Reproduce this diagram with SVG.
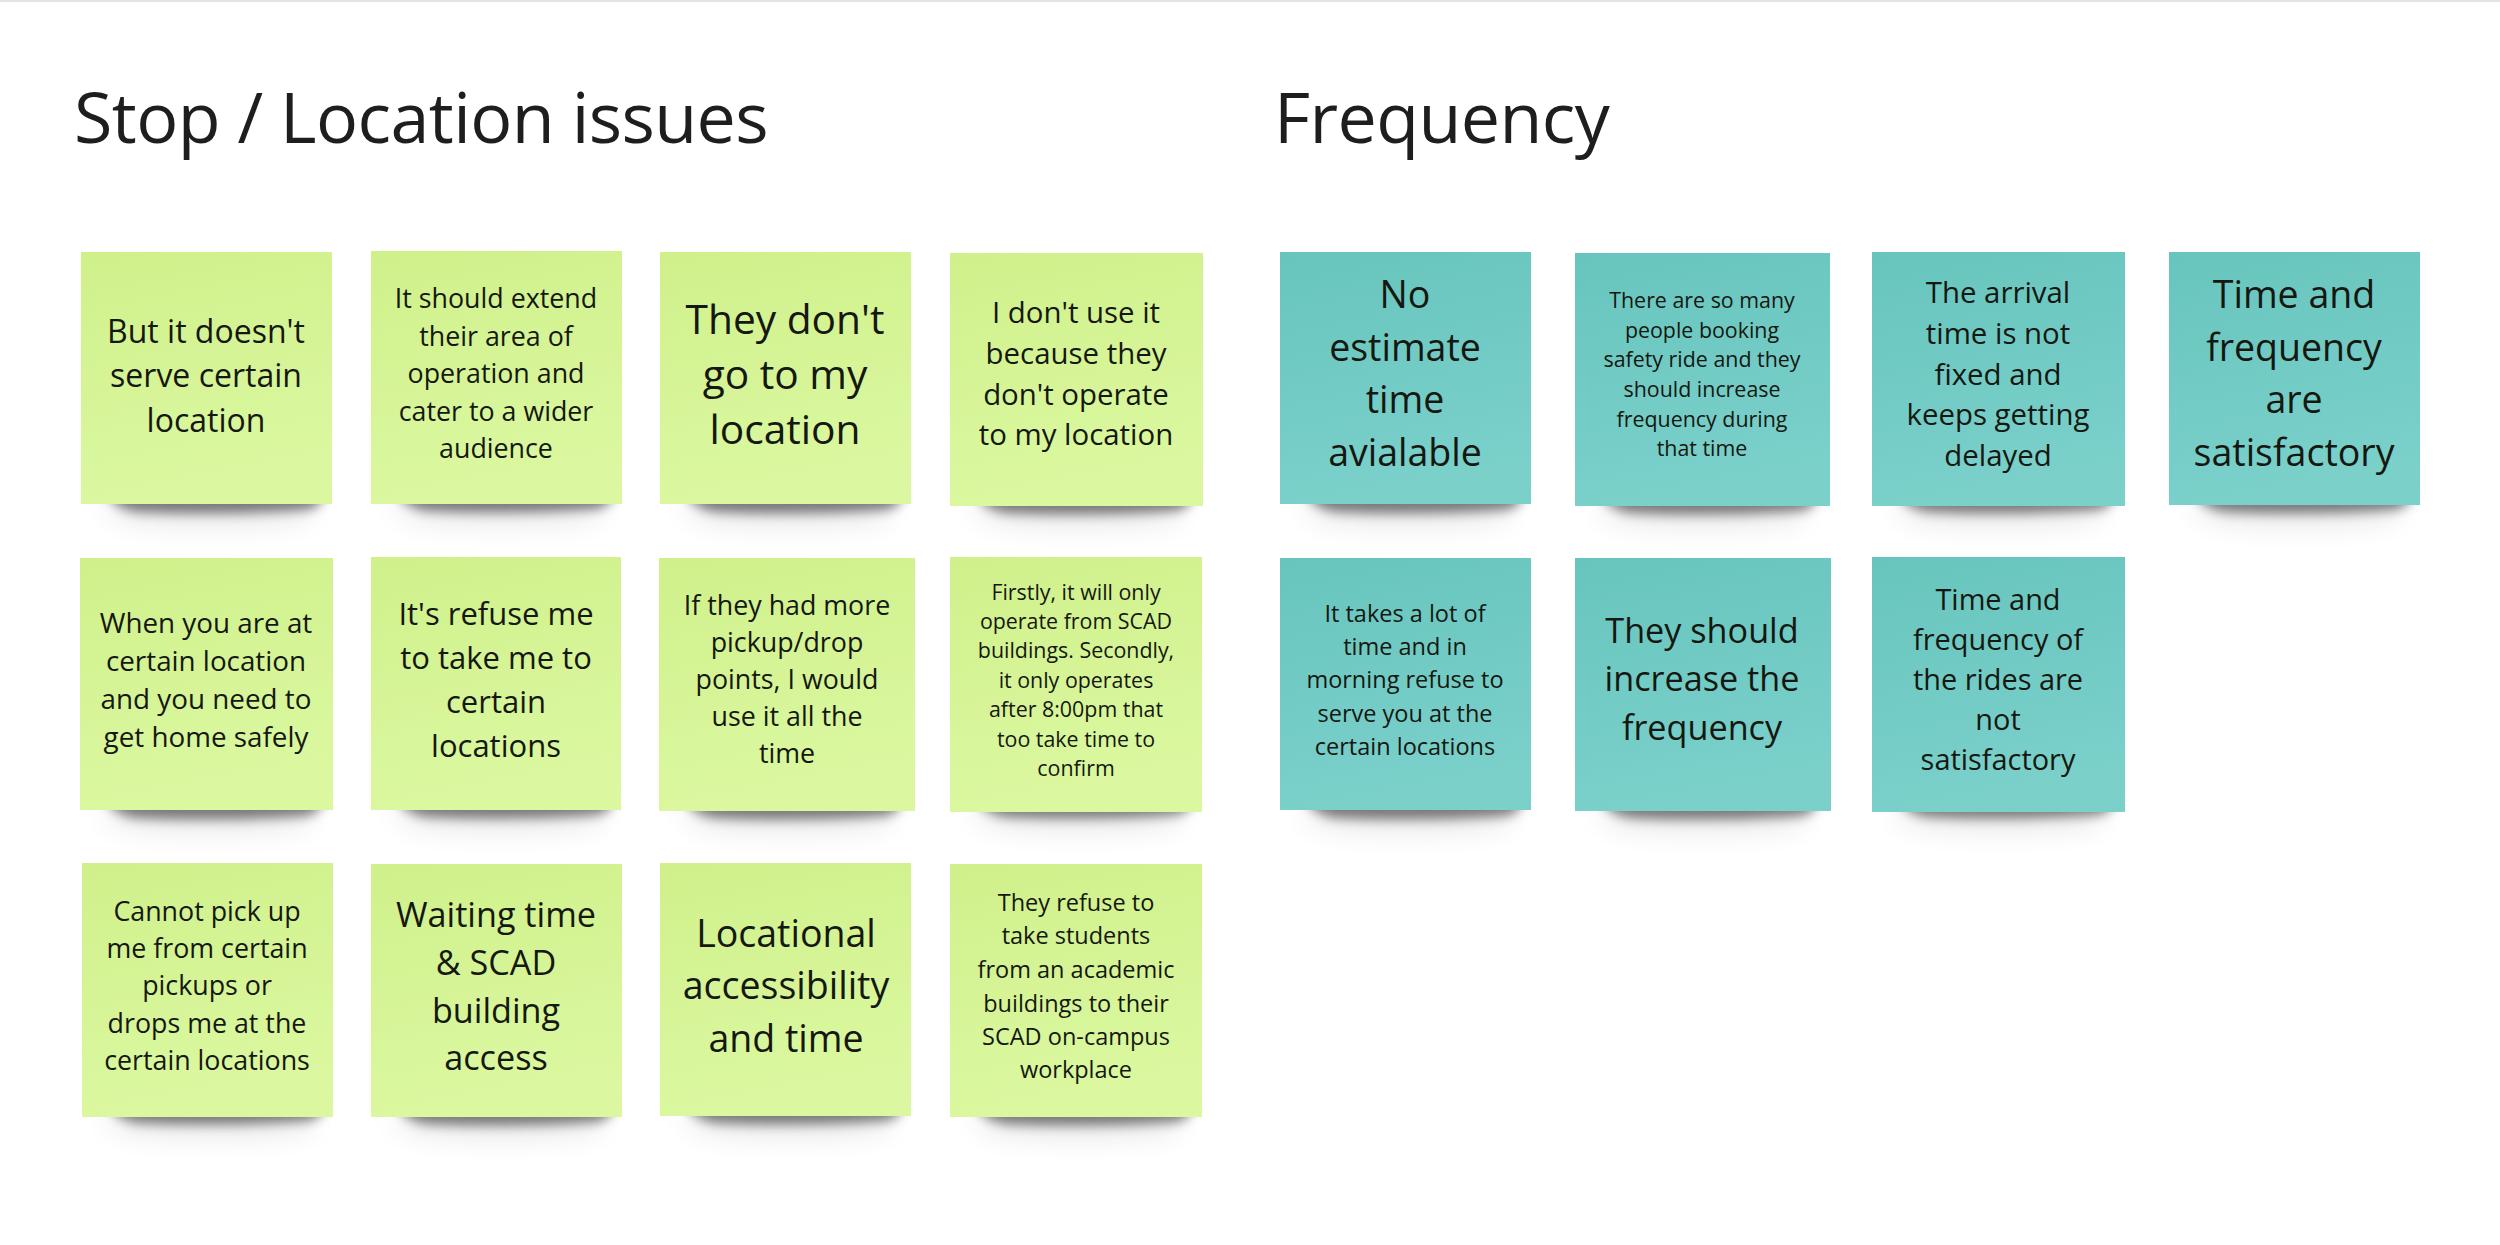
<svg xmlns="http://www.w3.org/2000/svg" width="2500" height="1245" viewBox="0 0 2500 1245">
<style>
.title{font-family:"Open Sans","Noto Sans",sans-serif;font-size:70px;letter-spacing:-0.6px;fill:#1e1e1e}
.t{font-family:"Open Sans","Noto Sans",sans-serif;fill:#141810;text-anchor:middle}
.g{fill:url(#gg)}
.c{fill:url(#tg)}
.sh{fill:#000;opacity:0.5;filter:url(#blur)}
.halo{fill:#000;opacity:0.10;filter:url(#blur2)}
</style>
<defs>
<linearGradient id="gg" x1="0" y1="0" x2="0.2" y2="1">
<stop offset="0" stop-color="#d0f08b"/>
<stop offset="1" stop-color="#dbf8a0"/>
</linearGradient>
<linearGradient id="tg" x1="0" y1="0" x2="0.2" y2="1">
<stop offset="0" stop-color="#67c5be"/>
<stop offset="1" stop-color="#7bd0ca"/>
</linearGradient>
<filter id="blur" x="-20%" y="-100%" width="140%" height="300%">
<feGaussianBlur stdDeviation="6"/>
</filter>
<filter id="blur2" x="-30%" y="-200%" width="160%" height="500%">
<feGaussianBlur stdDeviation="14"/>
</filter>
<symbol id="shadow" overflow="visible">
<path d="M20,250 L230,250 Q236,262 220,268 Q140,276 60,270 Q26,266 20,250 Z" class="halo"/>
<path d="M26,238 L242,238 Q244,254 226,258 Q140,264 56,260 Q30,256 26,238 Z" class="sh"/>
</symbol>
</defs>
<rect width="2500" height="1245" fill="#ffffff"/>
<rect width="2500" height="2" fill="#e4e4e4"/>

<g id="title-stop"><text class="title" x="74" y="143">Stop / Location issues</text></g>
<g id="title-frequency"><text class="title" x="1274" y="143">Frequency</text></g>

<g id="connectors"></g>

<g id="n1"><use href="#shadow" x="81" y="252"/><rect class="g" x="81" y="252" width="251" height="252"/>
<text class="t" font-size="32"><tspan x="206" y="343">But it doesn't</tspan><tspan x="206" y="387">serve certain</tspan><tspan x="206" y="432">location</tspan></text></g>

<g id="n2"><use href="#shadow" x="371" y="251"/><rect class="g" x="371" y="251" width="251" height="253"/>
<text class="t" font-size="26.8"><tspan x="496" y="308">It should extend</tspan><tspan x="496" y="346">their area of</tspan><tspan x="496" y="383">operation and</tspan><tspan x="496" y="421">cater to a wider</tspan><tspan x="496" y="458">audience</tspan></text></g>

<g id="n3"><use href="#shadow" x="660" y="252"/><rect class="g" x="660" y="252" width="251" height="252"/>
<text class="t" font-size="40.7"><tspan x="785" y="334">They don't</tspan><tspan x="785" y="389">go to my</tspan><tspan x="785" y="444">location</tspan></text></g>

<g id="n4"><use href="#shadow" x="950" y="253"/><rect class="g" x="950" y="253" width="253" height="253"/>
<text class="t" font-size="29.4"><tspan x="1076" y="323">I don't use it</tspan><tspan x="1076" y="364">because they</tspan><tspan x="1076" y="405">don't operate</tspan><tspan x="1076" y="445">to my location</tspan></text></g>

<g id="t1"><use href="#shadow" x="1280" y="252"/><rect class="c" x="1280" y="252" width="251" height="252"/>
<text class="t" font-size="37.5"><tspan x="1405" y="308">No</tspan><tspan x="1405" y="361">estimate</tspan><tspan x="1405" y="413">time</tspan><tspan x="1405" y="466">avialable</tspan></text></g>

<g id="t2"><use href="#shadow" x="1575" y="253"/><rect class="c" x="1575" y="253" width="255" height="253"/>
<text class="t" font-size="21.4"><tspan x="1702" y="308">There are so many</tspan><tspan x="1702" y="338">people booking</tspan><tspan x="1702" y="367">safety ride and they</tspan><tspan x="1702" y="397">should increase</tspan><tspan x="1702" y="427">frequency during</tspan><tspan x="1702" y="456">that time</tspan></text></g>

<g id="t3"><use href="#shadow" x="1872" y="252"/><rect class="c" x="1872" y="252" width="253" height="254"/>
<text class="t" font-size="29.4"><tspan x="1998" y="303">The arrival</tspan><tspan x="1998" y="344">time is not</tspan><tspan x="1998" y="385">fixed and</tspan><tspan x="1998" y="425">keeps getting</tspan><tspan x="1998" y="466">delayed</tspan></text></g>

<g id="t4"><use href="#shadow" x="2169" y="252"/><rect class="c" x="2169" y="252" width="251" height="253"/>
<text class="t" font-size="37.5"><tspan x="2294" y="308">Time and</tspan><tspan x="2294" y="361">frequency</tspan><tspan x="2294" y="413">are</tspan><tspan x="2294" y="466">satisfactory</tspan></text></g>

<g id="n5"><use href="#shadow" x="80" y="558"/><rect class="g" x="80" y="558" width="253" height="252"/>
<text class="t" font-size="27.8"><tspan x="206" y="633">When you are at</tspan><tspan x="206" y="671">certain location</tspan><tspan x="206" y="709">and you need to</tspan><tspan x="206" y="747">get home safely</tspan></text></g>

<g id="n6"><use href="#shadow" x="371" y="557"/><rect class="g" x="371" y="557" width="250" height="253"/>
<text class="t" font-size="31"><tspan x="496" y="625">It's refuse me</tspan><tspan x="496" y="669">to take me to</tspan><tspan x="496" y="713">certain</tspan><tspan x="496" y="757">locations</tspan></text></g>

<g id="n7"><use href="#shadow" x="659" y="558"/><rect class="g" x="659" y="558" width="256" height="253"/>
<text class="t" font-size="26.8"><tspan x="787" y="615">If they had more</tspan><tspan x="787" y="652">pickup/drop</tspan><tspan x="787" y="689">points, I would</tspan><tspan x="787" y="726">use it all the</tspan><tspan x="787" y="763">time</tspan></text></g>

<g id="n8"><use href="#shadow" x="950" y="557"/><rect class="g" x="950" y="557" width="252" height="255"/>
<text class="t" font-size="21.4"><tspan x="1076" y="600">Firstly, it will only</tspan><tspan x="1076" y="629">operate from SCAD</tspan><tspan x="1076" y="658">buildings. Secondly,</tspan><tspan x="1076" y="688">it only operates</tspan><tspan x="1076" y="717">after 8:00pm that</tspan><tspan x="1076" y="747">too take time to</tspan><tspan x="1076" y="776">confirm</tspan></text></g>

<g id="t5"><use href="#shadow" x="1280" y="558"/><rect class="c" x="1280" y="558" width="251" height="252"/>
<text class="t" font-size="23.5"><tspan x="1405" y="622">It takes a lot of</tspan><tspan x="1405" y="655">time and in</tspan><tspan x="1405" y="688">morning refuse to</tspan><tspan x="1405" y="722">serve you at the</tspan><tspan x="1405" y="755">certain locations</tspan></text></g>

<g id="t6"><use href="#shadow" x="1575" y="558"/><rect class="c" x="1575" y="558" width="256" height="253"/>
<text class="t" font-size="34.2"><tspan x="1702" y="643">They should</tspan><tspan x="1702" y="691">increase the</tspan><tspan x="1702" y="740">frequency</tspan></text></g>

<g id="t7"><use href="#shadow" x="1872" y="557"/><rect class="c" x="1872" y="557" width="253" height="255"/>
<text class="t" font-size="28.9"><tspan x="1998" y="610">Time and</tspan><tspan x="1998" y="650">frequency of</tspan><tspan x="1998" y="690">the rides are</tspan><tspan x="1998" y="730">not</tspan><tspan x="1998" y="770">satisfactory</tspan></text></g>

<g id="n9"><use href="#shadow" x="82" y="863"/><rect class="g" x="82" y="863" width="251" height="254"/>
<text class="t" font-size="26.8"><tspan x="207" y="921">Cannot pick up</tspan><tspan x="207" y="958">me from certain</tspan><tspan x="207" y="995">pickups or</tspan><tspan x="207" y="1033">drops me at the</tspan><tspan x="207" y="1070">certain locations</tspan></text></g>

<g id="n10"><use href="#shadow" x="371" y="864"/><rect class="g" x="371" y="864" width="251" height="253"/>
<text class="t" font-size="34.2"><tspan x="496" y="927">Waiting time</tspan><tspan x="496" y="975">&amp; SCAD</tspan><tspan x="496" y="1023">building</tspan><tspan x="496" y="1070">access</tspan></text></g>

<g id="n11"><use href="#shadow" x="660" y="863"/><rect class="g" x="660" y="863" width="251" height="253"/>
<text class="t" font-size="37.5"><tspan x="786" y="947">Locational</tspan><tspan x="786" y="999">accessibility</tspan><tspan x="786" y="1052">and time</tspan></text></g>

<g id="n12"><use href="#shadow" x="950" y="864"/><rect class="g" x="950" y="864" width="252" height="253"/>
<text class="t" font-size="23.5"><tspan x="1076" y="911">They refuse to</tspan><tspan x="1076" y="944">take students</tspan><tspan x="1076" y="978">from an academic</tspan><tspan x="1076" y="1012">buildings to their</tspan><tspan x="1076" y="1045">SCAD on-campus</tspan><tspan x="1076" y="1078">workplace</tspan></text></g>
</svg>
